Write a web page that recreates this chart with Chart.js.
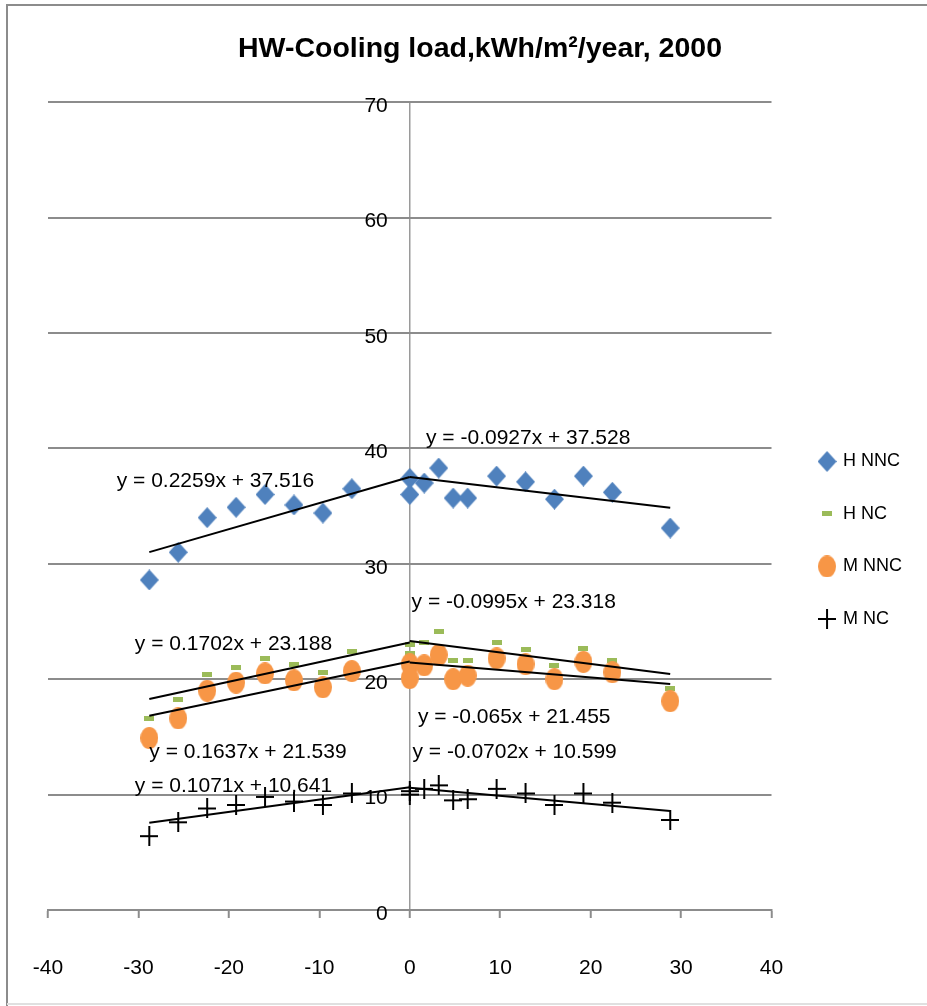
<!DOCTYPE html>
<html>
<head>
<meta charset="utf-8">
<title>HW-Cooling load, 2000</title>
<script src="https://cdn.jsdelivr.net/npm/chart.js"></script>
<style>
  html, body { margin: 0; padding: 0; background: #fff; }
  #wrap { width: 927px; height: 1006px; position: relative; }
</style>
</head>
<body>
<div id="wrap"><canvas id="chart"></canvas></div>
<script>
// Values
const xValues = [-28.8, -25.6, -22.4, -19.2, -16.0, -12.8, -9.6, -6.4, 0, 0, 1.6, 3.2, 4.8, 6.4, 9.6, 12.8, 16.0, 19.2, 22.4, 28.8];
const hNNC = [28.6, 31.0, 34.0, 34.9, 36.0, 35.1, 34.4, 36.5, 37.4, 36.0, 37.0, 38.3, 35.7, 35.7, 37.6, 37.1, 35.6, 37.6, 36.2, 33.1];
const hNC  = [16.6, 18.2, 20.4, 21.0, 21.8, 21.3, 20.6, 22.4, 23.0, 22.2, 23.2, 24.1, 21.6, 21.6, 23.2, 22.6, 21.2, 22.7, 21.6, 19.2];
const mNNC = [14.9, 16.6, 19.0, 19.7, 20.5, 19.9, 19.3, 20.7, 21.3, 20.1, 21.2, 22.1, 20.0, 20.3, 21.8, 21.3, 20.0, 21.5, 20.6, 18.1];
const mNC  = [6.4, 7.6, 8.8, 9.1, 9.8, 9.4, 9.1, 10.1, 10.3, 10.0, 10.5, 10.8, 9.5, 9.6, 10.5, 10.1, 9.1, 10.1, 9.3, 7.8];
const seriesNames = ['H NNC', 'H NC', 'M NNC', 'M NC'];

// trendline equations shown on the chart (left half / right half of x)
const slopeLeft = [0.2259, 0.1702, 0.1637, 0.1071];
const interceptLeft = [37.516, 23.188, 21.539, 10.641];
const slopeRight = [-0.0927, -0.0995, -0.065, -0.0702];
const interceptRight = [37.528, 23.318, 21.455, 10.599];

const xTickValues = [-40, -30, -20, -10, 0, 10, 20, 30, 40];
const yTickValues = [0, 10, 20, 30, 40, 50, 60, 70];

// where the equation texts sit, in data units
const leftLabelAt = [[-32.4, 37.2], [-30.4, 23.0], [-28.8, 13.7], [-30.4, 10.7]];
const rightLabelAt = [[1.8, 40.9], [0.2, 26.7], [0.9, 16.7], [0.3, 13.7]];

const FONT = '"Liberation Sans", Arial, sans-serif';
Chart.defaults.font.family = FONT;
Chart.defaults.color = '#000';

function makeMarker(w, h, paint) {
    const c = document.createElement('canvas');
    c.width = w;
    c.height = h;
    paint(c.getContext('2d'), w, h);
    return c;
}

const markers = [
    makeMarker(19, 21, (g, w, h) => {
        g.fillStyle = '#4F81BD';
        g.beginPath();
        g.moveTo(w / 2, 0); g.lineTo(w, h / 2); g.lineTo(w / 2, h); g.lineTo(0, h / 2);
        g.closePath();
        g.fill();
    }),
    makeMarker(10, 5, (g, w, h) => {
        g.fillStyle = '#9BBB59';
        g.fillRect(0, 0, w, h);
    }),
    makeMarker(18, 22, (g, w, h) => {
        g.fillStyle = '#F79646';
        g.beginPath();
        g.ellipse(w / 2, h / 2, w / 2, h / 2, 0, 0, Math.PI * 2);
        g.fill();
    }),
    makeMarker(18, 20, (g, w, h) => {
        g.strokeStyle = '#000';
        g.lineWidth = 2;
        g.beginPath();
        g.moveTo(0, h / 2); g.lineTo(w, h / 2);
        g.moveTo(w / 2, 0); g.lineTo(w / 2, h);
        g.stroke();
    })
];

const seriesValues = [hNNC, hNC, mNNC, mNC];
const xMin = Math.min(...xValues);
const xMax = Math.max(...xValues);

const datasets = seriesValues.map((vals, i) => ({
    label: seriesNames[i],
    data: xValues.map((x, k) => ({ x: x, y: vals[k] })),
    pointStyle: markers[i],
    pointRadius: 10,
    showLine: false,
    order: 4 - i
}));

// trendlines, drawn over the markers
seriesValues.forEach((vals, i) => {
    [[xMin, 0, slopeLeft[i], interceptLeft[i]], [0, xMax, slopeRight[i], interceptRight[i]]].forEach(t => {
        datasets.push({
            label: 'trend',
            data: [{ x: t[0], y: t[2] * t[0] + t[3] }, { x: t[1], y: t[2] * t[1] + t[3] }],
            showLine: true,
            pointRadius: 0,
            borderColor: '#000',
            borderWidth: 2,
            order: 0
        });
    });
});

const eqLabels = {
    id: 'eqLabels',
    afterDatasetsDraw(chart) {
        const { ctx, scales } = chart;
        ctx.save();
        ctx.font = '21px ' + FONT;
        ctx.fillStyle = '#000';
        ctx.textAlign = 'left';
        ctx.textBaseline = 'middle';
        for (let i = 0; i < seriesNames.length; i++) {
            const l = 'y = ' + slopeLeft[i] + 'x + ' + interceptLeft[i];
            const r = 'y = ' + slopeRight[i] + 'x + ' + interceptRight[i];
            ctx.fillText(l, scales.x.getPixelForValue(leftLabelAt[i][0]), scales.y.getPixelForValue(leftLabelAt[i][1]));
            ctx.fillText(r, scales.x.getPixelForValue(rightLabelAt[i][0]), scales.y.getPixelForValue(rightLabelAt[i][1]));
        }
        ctx.restore();
    }
};

const frame = {
    id: 'frame',
    beforeDraw(chart) {
        const { ctx, width, height } = chart;
        ctx.save();
        ctx.fillStyle = '#fff';
        ctx.fillRect(0, 0, width, height);
        ctx.strokeStyle = '#8c8c8c';
        ctx.lineWidth = 2;
        ctx.beginPath();
        ctx.moveTo(7, height);
        ctx.lineTo(7, 5);
        ctx.lineTo(width, 5);
        ctx.stroke();
        ctx.strokeStyle = '#e0e0e0';
        ctx.beginPath();
        ctx.moveTo(7, height - 2);
        ctx.lineTo(width, height - 2);
        ctx.stroke();
        ctx.restore();
    }
};

new Chart(document.getElementById('chart'), {
    type: 'scatter',
    data: { datasets: datasets },
    options: {
        responsive: true,
        maintainAspectRatio: false,
        animation: false,
        events: [],
        layout: { padding: { left: 48, right: 15, top: 0, bottom: 0 } },
        plugins: {
            tooltip: { enabled: false },
            title: {
                display: true,
                text: 'HW-Cooling load,kWh/m²/year, 2000',
                font: { size: 28.5, weight: 'bold' },
                color: '#000',
                padding: { top: 32, bottom: 36 }
            },
            legend: {
                position: 'right',
                title: { display: true, text: '', font: { size: 12 }, padding: { top: 30, bottom: 30 } },
                labels: {
                    usePointStyle: true,
                    boxWidth: 14,
                    padding: 34.5,
                    font: { size: 18 },
                    color: '#000',
                    filter: item => item.datasetIndex < seriesNames.length,
                    sort: (a, b) => a.datasetIndex - b.datasetIndex
                }
            }
        },
        scales: {
            x: {
                type: 'linear',
                min: -40,
                max: 40,
                afterBuildTicks: s => { s.ticks = xTickValues.map(v => ({ value: v })); },
                afterFit: s => {
                    s.height = 96;
                    s.paddingLeft = 0;
                    s.paddingRight = 0;
                },
                grid: {
                    // only the x = 0 line is drawn across the plot: it is the value axis
                    color: c => (c.tick && c.tick.value === 0 ? '#9a9a9a' : 'rgba(0,0,0,0)'),
                    lineWidth: 1.5,
                    drawTicks: true,
                    tickLength: 8,
                    tickColor: '#8c8c8c',
                    tickWidth: 2
                },
                border: { color: '#8c8c8c', width: 2 },
                ticks: { padding: 38, font: { size: 21 }, color: '#000' }
            },
            y: {
                type: 'linear',
                position: { x: -2.43 },
                min: 0,
                max: 70,
                afterBuildTicks: s => { s.ticks = yTickValues.map(v => ({ value: v })); },
                grid: { color: '#8c8c8c', lineWidth: 2, drawTicks: false },
                border: { display: false },
                ticks: { labelOffset: 4, font: { size: 21 }, color: '#000' }
            },
            // spacer so the legend sits where it does in the picture
            gap: {
                type: 'linear',
                position: 'right',
                display: true,
                grid: { display: false },
                border: { display: false },
                ticks: { display: false },
                afterFit: s => { s.width = 14; }
            }
        }
    },
    plugins: [frame, eqLabels]
});
</script>
</body>
</html>
